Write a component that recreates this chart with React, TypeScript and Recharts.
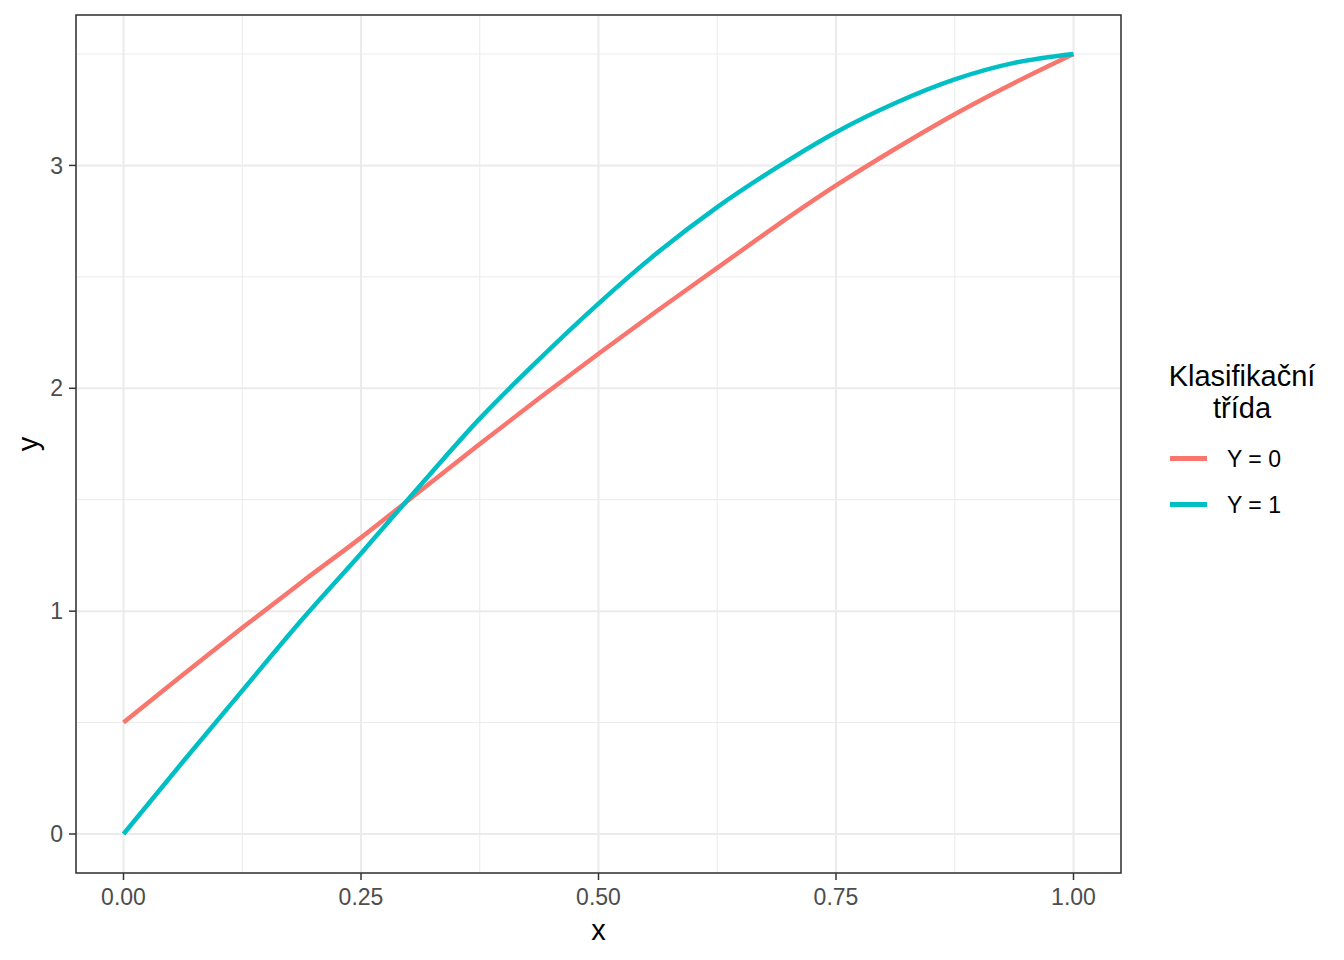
import {
  LineChart,
  Line,
  XAxis,
  YAxis,
  CartesianGrid,
  ReferenceArea,
  Legend,
  Label,
} from 'recharts';

// values
const xValues = [
  0, 0.0625, 0.125, 0.1875, 0.25, 0.3125, 0.375, 0.4375, 0.5,
  0.5625, 0.625, 0.6875, 0.75, 0.8125, 0.875, 0.9375, 1,
];
const class0 = [
  0.5, 0.715, 0.925, 1.13, 1.33, 1.54, 1.75, 1.955, 2.155,
  2.35, 2.54, 2.73, 2.91, 3.075, 3.23, 3.37, 3.5,
];
const class1 = [
  0, 0.324, 0.643, 0.96, 1.259, 1.565, 1.864, 2.13, 2.38,
  2.61, 2.813, 2.99, 3.149, 3.28, 3.386, 3.46, 3.5,
];
const seriesNames = ['Y = 0', 'Y = 1'];
const seriesColors = ['#F8766D', '#00BFC4'];
const xTicks = [0, 0.25, 0.5, 0.75, 1];
const yTicks = [0, 1, 2, 3];
const xMinor = [0.125, 0.375, 0.625, 0.875];
const yMinor = [0.5, 1.5, 2.5, 3.5];
const legendTitle = ['Klasifikační', 'třída'];

const FONT = '"Liberation Sans", Arial, sans-serif';

const toPoints = (ys: number[]) => xValues.map((x, i) => ({ x, y: ys[i] }));

function LegendBox() {
  return (
    <div style={{ position: 'relative', width: 184, height: 170, fontFamily: FONT }}>
      <div
        style={{
          position: 'absolute',
          left: 0,
          top: 0,
          width: 184,
          textAlign: 'center',
          fontSize: 29,
          lineHeight: '32px',
          color: '#000',
        }}
      >
        {legendTitle.map((t) => (
          <div key={t}>{t}</div>
        ))}
      </div>
      {seriesNames.map((name, i) => (
        <div key={name}>
          <div
            style={{
              position: 'absolute',
              left: 20,
              top: 95.5 + i * 46,
              width: 37,
              height: 5,
              background: seriesColors[i],
            }}
          />
          <div
            style={{
              position: 'absolute',
              left: 77,
              top: 87.7 + i * 46,
              fontSize: 23,
              lineHeight: '23px',
              color: '#000',
              whiteSpace: 'nowrap',
            }}
          >
            {name}
          </div>
        </div>
      ))}
    </div>
  );
}

export default function App() {
  const tickStyle = { fontSize: 23, fill: '#4D4D4D', fontFamily: FONT };
  return (
    <div style={{ position: 'absolute', left: 0, top: 0, width: 1344, height: 960, background: '#fff' }}>
      <LineChart
        width={1344}
        height={960}
        margin={{ top: 15, right: 223, bottom: 0, left: 0 }}
      >
        <CartesianGrid
          stroke="#EBEBEB"
          strokeWidth={1}
          horizontalValues={yMinor}
          verticalValues={xMinor}
        />
        <CartesianGrid stroke="#EBEBEB" strokeWidth={2} />
        <XAxis
          type="number"
          dataKey="x"
          domain={[-0.05, 1.05]}
          ticks={xTicks}
          allowDataOverflow
          tickFormatter={(v: number) => v.toFixed(2)}
          tick={tickStyle}
          tickSize={7}
          tickMargin={9}
          tickLine={{ stroke: '#333333', strokeWidth: 1.5 }}
          axisLine={false}
          height={87}
        >
          <Label
            value="x"
            position="insideBottom"
            offset={20}
            style={{ fontSize: 29, fill: '#000', fontFamily: FONT }}
          />
        </XAxis>
        <YAxis
          type="number"
          dataKey="y"
          domain={[-0.175, 3.675]}
          ticks={yTicks}
          allowDataOverflow
          tick={tickStyle}
          tickSize={7}
          tickMargin={6}
          tickLine={{ stroke: '#333333', strokeWidth: 1.5 }}
          axisLine={false}
          width={76}
        >
          <Label
            content={({ viewBox }: any) => {
              const cy = viewBox.y + viewBox.height / 2;
              const cx = 38;
              return (
                <text
                  x={cx}
                  y={cy}
                  transform={`rotate(-90, ${cx}, ${cy})`}
                  textAnchor="middle"
                  style={{ fontSize: 29, fill: '#000', fontFamily: FONT }}
                >
                  y
                </text>
              );
            }}
          />
        </YAxis>
        <Line
          data={toPoints(class0)}
          dataKey="y"
          name={seriesNames[0]}
          type="monotone"
          stroke={seriesColors[0]}
          strokeWidth={4.5}
          dot={false}
          isAnimationActive={false}
        />
        <Line
          data={toPoints(class1)}
          dataKey="y"
          name={seriesNames[1]}
          type="monotone"
          stroke={seriesColors[1]}
          strokeWidth={4.5}
          dot={false}
          isAnimationActive={false}
        />
        <ReferenceArea
          x1={-0.05}
          x2={1.05}
          y1={-0.175}
          y2={3.675}
          fill="none"
          stroke="#333333"
          strokeWidth={1.5}
          ifOverflow="visible"
        />
        <Legend
          content={() => <LegendBox />}
          wrapperStyle={{
            position: 'absolute',
            left: 1150,
            top: 360,
            width: 0,
            height: 0,
            overflow: 'visible',
          }}
        />
      </LineChart>
    </div>
  );
}
